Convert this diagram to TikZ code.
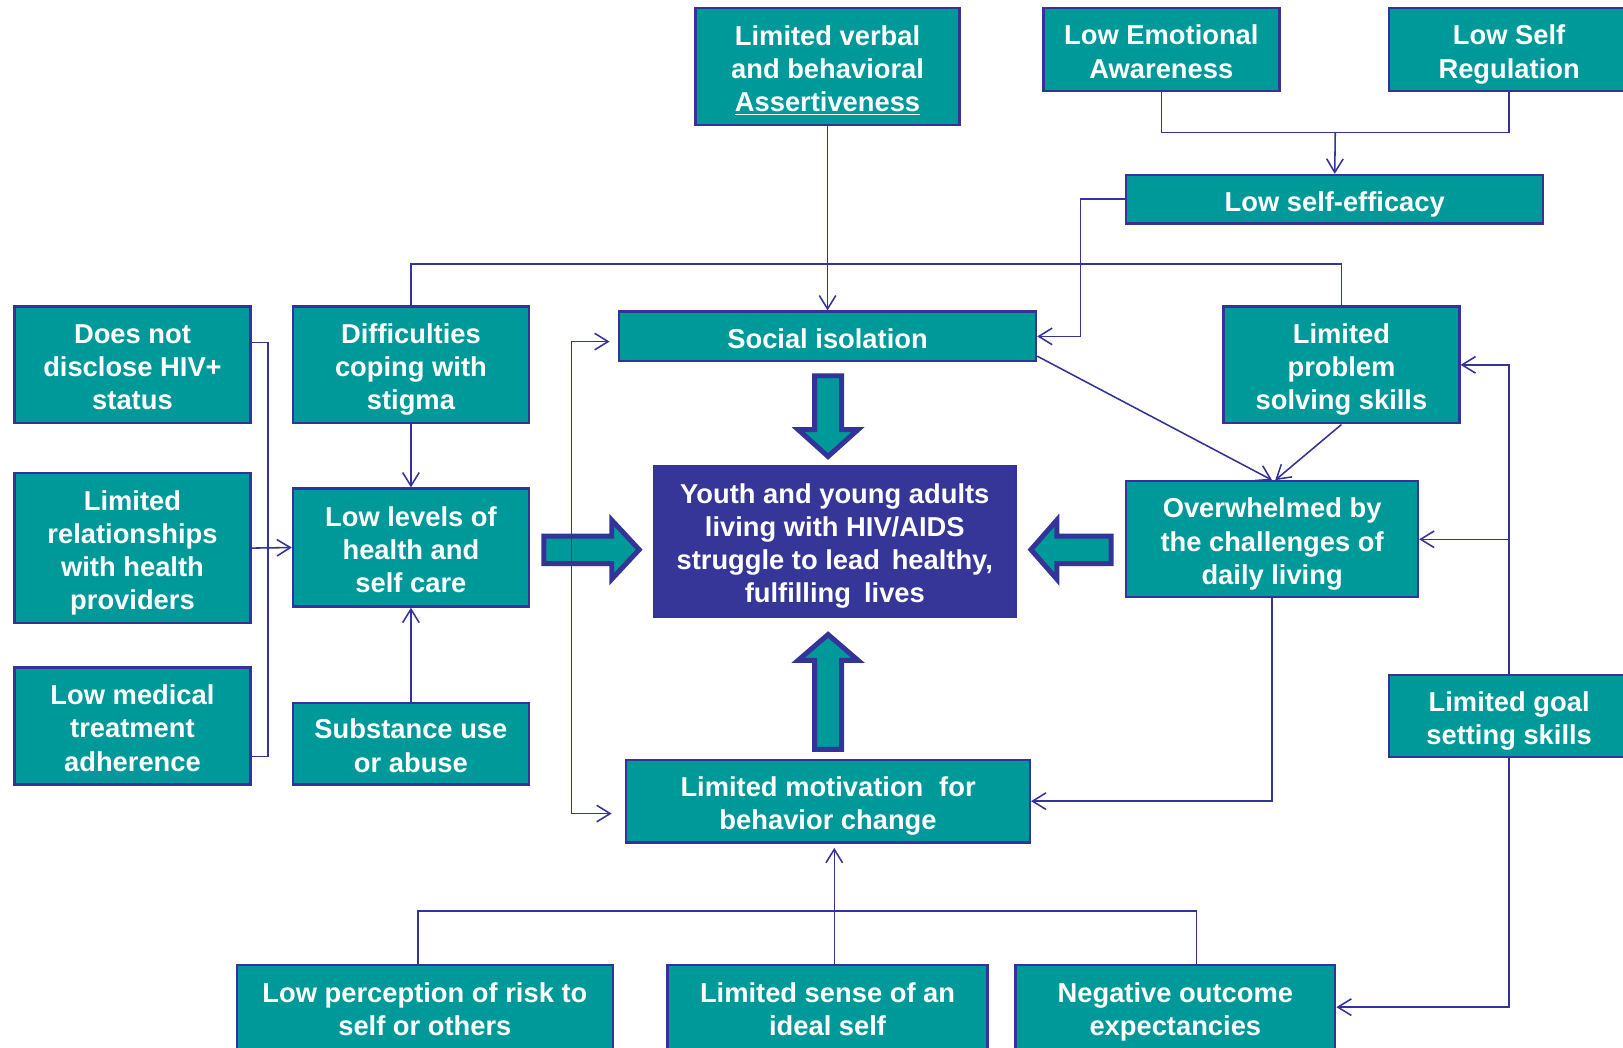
\documentclass[tikz,border=0pt]{standalone}
\usepackage{fontspec}
\setmainfont{Liberation Sans}
\usetikzlibrary{arrows.meta,calc}
\definecolor{boxteal}{RGB}{0,153,153}
\definecolor{linkblue}{RGB}{51,51,153}
\definecolor{corefill}{RGB}{54,54,153}
% invisible struts giving every box the same first-line height and last-line depth
\newcommand\openln{\rule{0pt}{14.4pt}}
\newcommand\closeln{\rule[-3pt]{0pt}{0pt}}
\begin{document}
\begin{tikzpicture}[x=0.5pt,y=-0.5pt,
  box/.style={draw=linkblue, fill=boxteal, line width=1.1pt, text=white,
    font=\bfseries\fontsize{13.2pt}{16pt}\selectfont, align=center, inner sep=0pt},
  link/.style={draw=linkblue, line width=0.75pt},
  conn/.style={link, -{Straight Barb[length=6.5pt,width=8pt]}},
  dconn/.style={link, {Straight Barb[length=6.5pt,width=8pt]}-{Straight Barb[length=6.5pt,width=8pt]}},
  blockarrow/.style={fill=boxteal, draw=linkblue, line width=2.4pt, line join=miter}
]
\clip (0,0) rectangle (1568,1012);
\fill[white] (0,0) rectangle (1568,1012);

% ---- boxes ----
\node[box, minimum width=127.5pt, minimum height=56.5pt] (verbal) at (799.5,64.5)
  {\openln Limited verbal\\and behavioral\\\underline{Assertiveness}\closeln};
\node[box, minimum width=114pt, minimum height=40pt] (emo) at (1122,48)
  {\openln Low Emotional\\Awareness\closeln};
\node[box, minimum width=116pt, minimum height=40pt] (selfreg) at (1458,48)
  {\openln Low Self\\Regulation\closeln};
\node[box, minimum width=201.5pt, minimum height=23.5pt] (efficacy) at (1289.5,192.5)
  {\openln Low self-efficacy\closeln};

\node[box, minimum width=114pt, minimum height=56.5pt] (nodisc) at (128,352.5)
  {\openln Does not\\disclose HIV+\\status\closeln};
\node[box, minimum width=114pt, minimum height=56.5pt] (stigma) at (397,352.5)
  {\openln Difficulties\\coping with\\stigma\closeln};
\node[box, minimum width=201.5pt, minimum height=24pt] (isolation) at (799.5,325)
  {\openln Social isolation\closeln};
\node[box, minimum width=114pt, minimum height=56.5pt] (problem) at (1296,352.5)
  {\openln Limited\\problem\\solving skills\closeln};

\node[box, minimum width=114pt, minimum height=72.5pt] (relations) at (128,529.5)
  {\openln Limited\\relationships\\with health\\providers\closeln};
\node[box, minimum width=114pt, minimum height=57pt] (selfcare) at (397,529)
  {\openln Low levels of\\health and\\self care\closeln};
\node[box, fill=corefill, minimum width=174.5pt, minimum height=73pt] (core) at (806.5,523)
  {\openln Youth and young adults\\living with HIV/AIDS\\struggle to lead\hspace{0.15em} healthy,\\fulfilling\hspace{0.2em} lives\closeln};
\node[box, minimum width=141pt, minimum height=56pt] (overwhelmed) at (1229,521)
  {\openln Overwhelmed by\\the challenges of\\daily living\closeln};

\node[box, minimum width=114pt, minimum height=56.5pt] (adherence) at (128,701.5)
  {\openln Low medical\\treatment\\adherence\closeln};
\node[box, minimum width=114pt, minimum height=39.5pt] (substance) at (397,718.5)
  {\openln Substance use\\or abuse\closeln};
\node[box, minimum width=116pt, minimum height=39.5pt] (goal) at (1458,691.5)
  {\openln Limited goal\\setting skills\closeln};
\node[box, minimum width=195pt, minimum height=40pt] (motivation) at (800,774)
  {\openln Limited motivation\hspace{0.3em} for\\behavior change\closeln};

\node[box, minimum width=181.5pt, minimum height=41pt] (risk) at (410.5,973)
  {\openln Low perception of risk to\\self or others\closeln};
\node[box, minimum width=154.5pt, minimum height=41pt] (idealself) at (799.5,973)
  {\openln Limited sense of an\\ideal self\closeln};
\node[box, minimum width=154.5pt, minimum height=41pt] (negative) at (1135.5,973)
  {\openln Negative outcome\\expectancies\closeln};

% ---- block arrows pointing at the central box ----
\draw[blockarrow] (787,363) -- (813,363) -- (813,415) -- (829,415) -- (800,441)
  -- (771,415) -- (787,415) -- cycle;
\draw[blockarrow] (787,724) -- (813,724) -- (813,638) -- (829,638) -- (800,613)
  -- (771,638) -- (787,638) -- cycle;
\draw[blockarrow] (525.5,518) -- (591,518) -- (591,502.5) -- (617.5,531) -- (591,559.5)
  -- (591,544.5) -- (525.5,544.5) -- cycle;
\draw[blockarrow] (1073.5,518) -- (1021,518) -- (1021,502.5) -- (996,531) -- (1021,559.5)
  -- (1021,544.5) -- (1073.5,544.5) -- cycle;

% ---- connectors ----
\coordinate (j1) at (1290,128);
\draw[link] (emo.south) |- (j1) -| (selfreg.south);
\draw[conn] (j1) -- (efficacy.north);
\draw[conn] (verbal) -- (isolation);
\draw[conn] (efficacy.west) -- ++(-43,0) |- (isolation.east);
\draw[link] (stigma.north) -- ++(0,-40) -| (problem.north);

\coordinate (b1) at (259,331);
\coordinate (b2) at (259,731);
\draw[link] (nodisc.east |- b1) -- (b1) -- (b2) -- (adherence.east |- b2);
\draw[conn] (relations.east) -- (selfcare.west);
\draw[conn] (stigma) -- (selfcare);
\draw[conn] (substance) -- (selfcare);

\draw[conn] ($(isolation.south east)+(0,-6)$) -- (overwhelmed.north);
\draw[conn] (problem.south) -- ($(overwhelmed.north)+(3,0)$);
\draw[conn] (goal.north) |- (problem.east);
\draw[conn] (goal.north |- overwhelmed.east) -- (overwhelmed.east);
\draw[conn] (goal.south) |- (negative.east);
\draw[conn] (overwhelmed.south) |- (motivation.east);

\coordinate (l1) at (552,330);
\coordinate (l2) at (552,786);
\draw[dconn, shorten <=4pt, shorten >=6.5pt] (isolation.west |- l1) -- (l1) -- (l2)
  -- (motivation.west |- l2);

\coordinate (q1) at (404,880);
\coordinate (q2) at (1156,880);
\coordinate (q3) at (806,880);
\draw[link] (risk.north -| q1) -- (q1) -- (q2) -- (negative.north -| q2);
\draw[conn, shorten >=2pt] (idealself.north -| q3) -- (motivation.south -| q3);
\end{tikzpicture}
\end{document}
